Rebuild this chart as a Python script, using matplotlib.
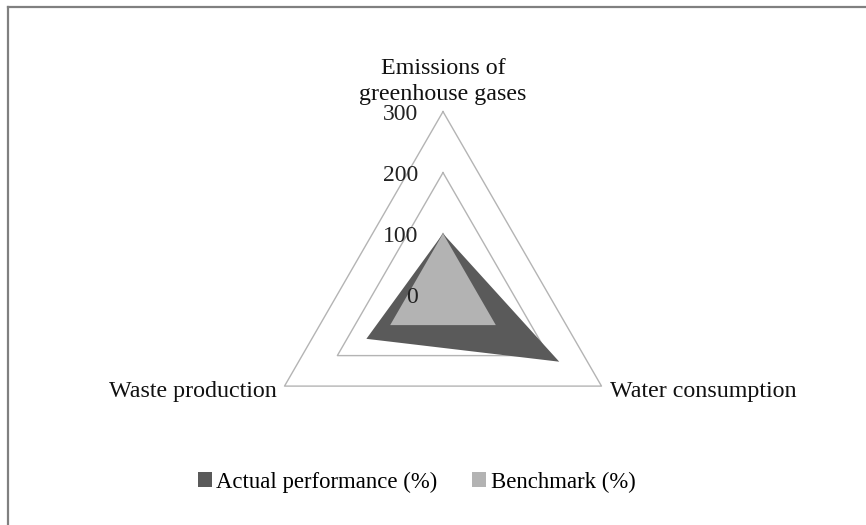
import numpy as np
import matplotlib
matplotlib.use("Agg")
import matplotlib.pyplot as plt
from matplotlib.patches import Patch
from matplotlib.lines import Line2D

categories = ["Emissions of\ngreenhouse gases", "Water consumption", "Waste production"]
actual = [100, 220, 145]
benchmark = [100, 100, 100]
grid_levels = [100, 200, 300]
tick_labels = ["0", "100", "200", "300"]
tick_values = [0, 100, 200, 300]

plt.rcParams['font.family'] = ['Liberation Serif', 'DejaVu Serif']
FS = 17.3
FS_TICK = 17
FS_LEG = 16.4

W, H = 866, 525
fig = plt.figure(figsize=(W / 100, H / 100), dpi=100)
fig.patch.set_facecolor('white')

cx, cy, R = 443, 294.6, 183
ax = fig.add_axes([(cx - R) / W, (H - cy - R) / H, 2 * R / W, 2 * R / H], projection='polar')
ax.set_theta_zero_location('N')
ax.set_theta_direction(-1)
ax.set_ylim(0, 300)
ax.set_axis_off()

n = len(categories)
angles = np.arange(n) * 2 * np.pi / n
ang_c = np.concatenate([angles, angles[:1]])

for lv in grid_levels:
    ax.plot(ang_c, [lv] * (n + 1), color='#b4b4b4', lw=1.0, clip_on=False, zorder=1)

act_c = actual + actual[:1]
ben_c = benchmark + benchmark[:1]
ax.fill(ang_c, act_c, color='#5a5a5a', lw=0, zorder=2, clip_on=False)
ax.fill(ang_c, ben_c, color='#b3b3b3', lw=0, zorder=3, clip_on=False)

for v, t in zip(tick_values, tick_labels):
    ax.annotate(t, xy=(0, v), xytext=(-25, -3), textcoords='offset pixels',
                ha='right', va='center', fontsize=FS_TICK, color='#222222', zorder=5,
                annotation_clip=False)

# category labels
ax.annotate(categories[0], xy=(angles[0], 300), xytext=(0, 7), textcoords='offset pixels',
            ha='center', va='bottom', fontsize=FS, color='#111111', linespacing=1.3,
            multialignment='center', annotation_clip=False)
ax.annotate(categories[1], xy=(angles[1], 300), xytext=(9, -5), textcoords='offset pixels',
            ha='left', va='center', fontsize=FS, color='#111111', annotation_clip=False)
ax.annotate(categories[2], xy=(angles[2], 300), xytext=(-8, -5), textcoords='offset pixels',
            ha='right', va='center', fontsize=FS, color='#111111', annotation_clip=False)

handles = [Patch(facecolor='#5a5a5a', edgecolor='none', label='Actual performance (%)'),
           Patch(facecolor='#b3b3b3', edgecolor='none', label='Benchmark (%)')]
fig.legend(handles=handles, loc='center', bbox_to_anchor=(416.5 / W, 1 - 482 / H), ncol=2,
           frameon=False, fontsize=FS_LEG, handlelength=0.62, handleheight=0.62,
           handletextpad=0.2, columnspacing=1.5)

# outer frame (top and left edges visible)
fig.add_artist(Line2D([8 / W, 1], [1 - 6.5 / H, 1 - 6.5 / H], color='#808080', lw=1.6,
                      transform=fig.transFigure))
fig.add_artist(Line2D([8 / W, 8 / W], [0, 1 - 6.5 / H], color='#808080', lw=1.6,
                      transform=fig.transFigure))

fig.savefig('out.png', dpi=100)
